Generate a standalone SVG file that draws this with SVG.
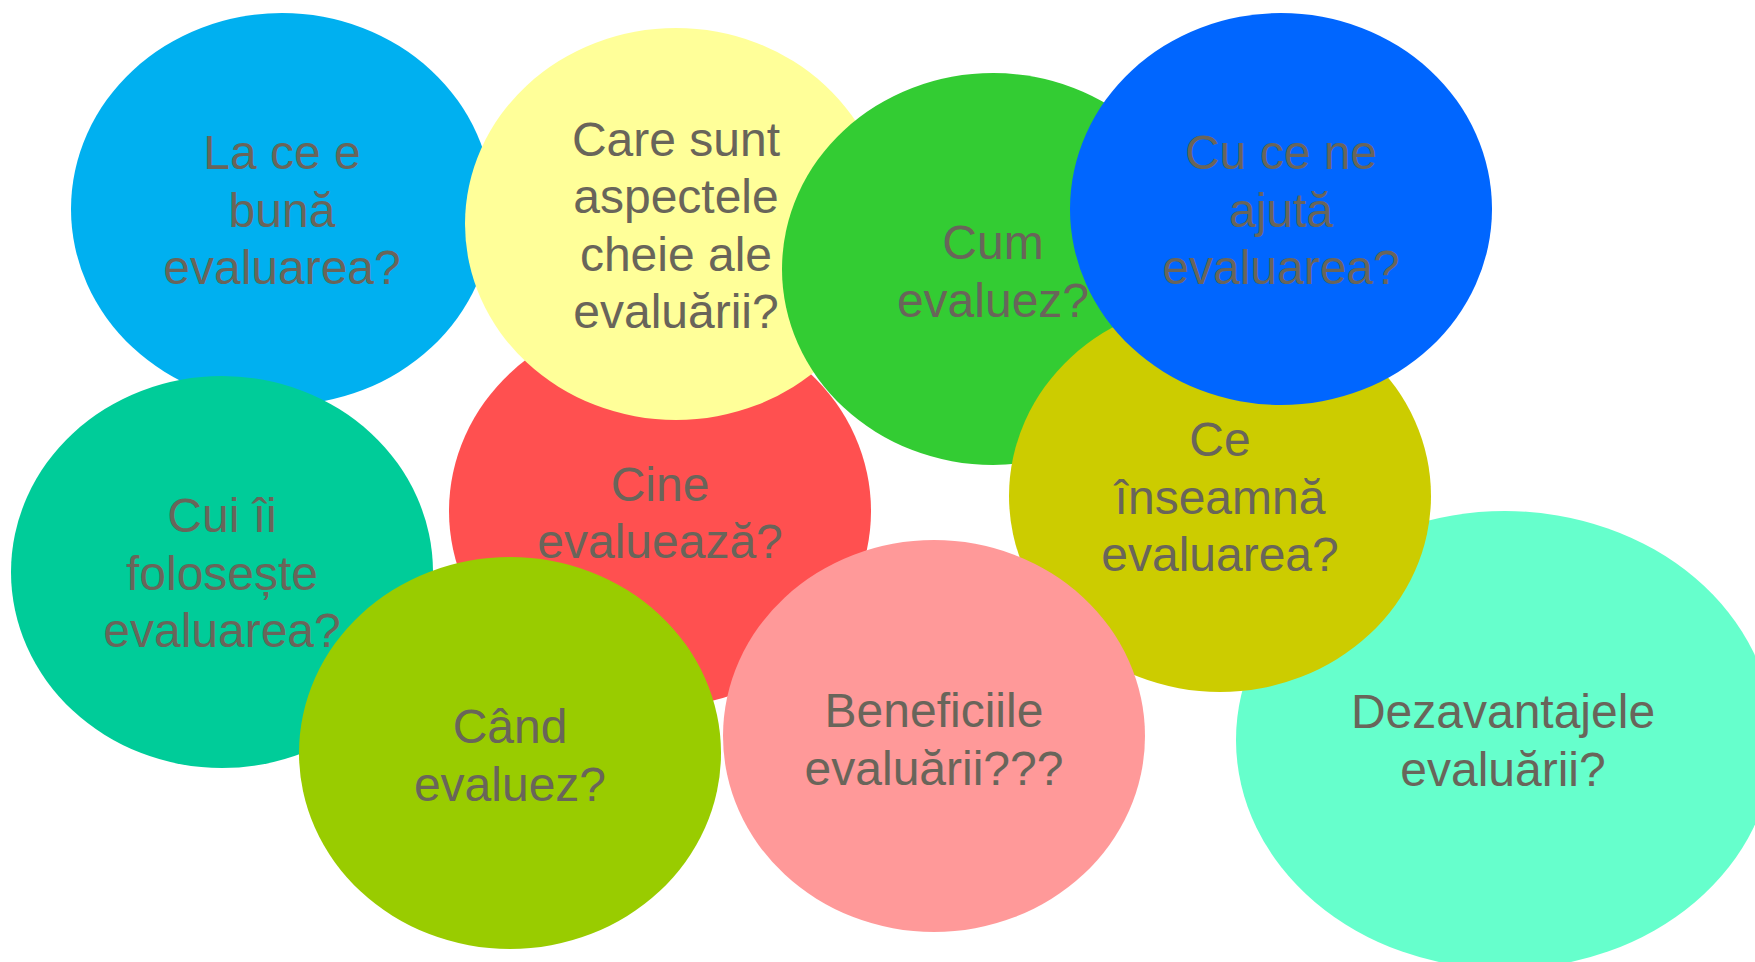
<svg xmlns="http://www.w3.org/2000/svg" width="1755" height="962" viewBox="0 0 1755 962">
<style>
text{font-family:"Liberation Sans",Arial,sans-serif;font-size:48px;fill:#69655a;text-anchor:middle}
</style>
<rect width="1755" height="962" fill="#ffffff"/>
<g id="n-dezavantajele">
<ellipse cx="1505" cy="740" rx="269" ry="229" fill="#66FFCC"/>
<text x="1503" y="728">Dezavantajele</text>
<text x="1503" y="786">evaluării?</text>
</g>
<g id="n-la-ce">
<ellipse cx="282" cy="209" rx="211" ry="196" fill="#00B0F0"/>
<text x="282" y="169">La ce e</text>
<text x="282" y="227">bună</text>
<text x="282" y="284">evaluarea?</text>
</g>
<g id="n-cine">
<ellipse cx="660" cy="511" rx="211" ry="196" fill="#FF5050"/>
<text x="660" y="501">Cine</text>
<text x="660" y="558">evaluează?</text>
</g>
<g id="n-care">
<ellipse cx="676" cy="224" rx="211" ry="196" fill="#FFFF99"/>
<text x="676" y="156">Care sunt</text>
<text x="676" y="213">aspectele</text>
<text x="676" y="271">cheie ale</text>
<text x="676" y="328">evaluării?</text>
</g>
<g id="n-cum">
<ellipse cx="993" cy="269" rx="211" ry="196" fill="#33CC33"/>
<text x="993" y="259">Cum</text>
<text x="993" y="317">evaluez?</text>
</g>
<g id="n-ce-inseamna">
<ellipse cx="1220" cy="496" rx="211" ry="196" fill="#CCCC00"/>
<text x="1220" y="456">Ce</text>
<text x="1220" y="514">înseamnă</text>
<text x="1220" y="571">evaluarea?</text>
</g>
<g id="n-cu-ce">
<ellipse cx="1281" cy="209" rx="211" ry="196" fill="#0066FF"/>
<text x="1281" y="169">Cu ce ne</text>
<text x="1281" y="227">ajută</text>
<text x="1281" y="284">evaluarea?</text>
</g>
<g id="n-cui">
<ellipse cx="222" cy="572" rx="211" ry="196" fill="#00CC99"/>
<text x="222" y="532">Cui îi</text>
<text x="222" y="590">folosește</text>
<text x="222" y="647">evaluarea?</text>
</g>
<g id="n-cand">
<ellipse cx="510" cy="753" rx="211" ry="196" fill="#99CC00"/>
<text x="510" y="743">Când</text>
<text x="510" y="801">evaluez?</text>
</g>
<g id="n-beneficiile">
<ellipse cx="934" cy="736" rx="211" ry="196" fill="#FF9999"/>
<text x="934" y="727">Beneficiile</text>
<text x="934" y="785">evaluării???</text>
</g>
<g id="connectors"></g>
</svg>
